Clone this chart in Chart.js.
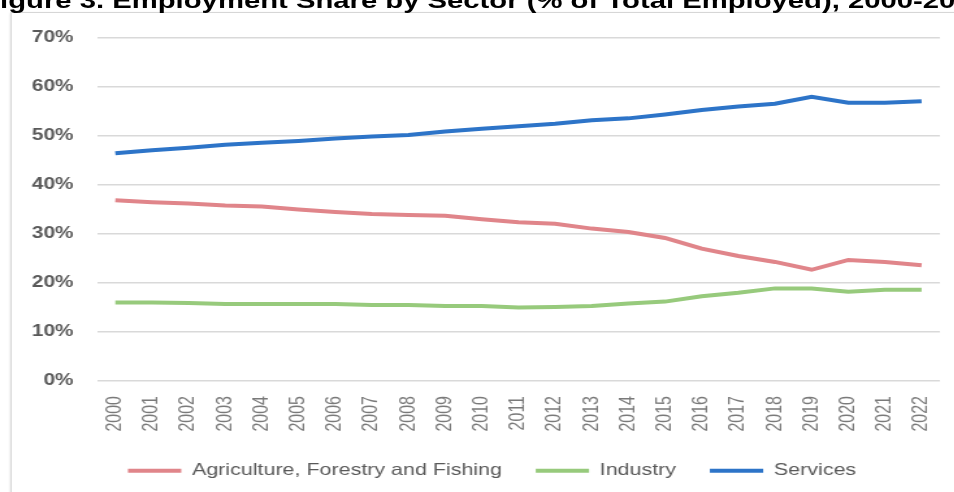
<!DOCTYPE html>
<html>
<head>
<meta charset="utf-8">
<title>Employment Share by Sector</title>
<script src="https://cdn.jsdelivr.net/npm/chart.js@4.4.1/dist/chart.umd.min.js"></script>
<style>
  html, body {
    margin: 0;
    width: 954px;
    height: 492px;
    overflow: hidden;
    background: #fff;
  }
  /* the whole figure is laid out narrow and widened sideways */
  #stage {
    position: absolute;
    left: 0;
    top: 0;
    width: 734px;
    height: 492px;
    transform: scaleX(1.3);
    transform-origin: 0 0;
  }
  #frame {
    position: absolute;
    left: 8px;
    top: 12px;
    width: 800px;
    height: 600px;
    border: 1px solid #d6d6d6;
    box-shadow: 0 1px 2px rgba(0, 0, 0, 0.12);
  }
  #title {
    position: absolute;
    left: -13.7px;
    top: -10px;
    white-space: nowrap;
    font-family: "Liberation Sans", Arial, sans-serif;
    font-weight: bold;
    font-size: 22.5px;
    line-height: 1;
    color: #000;
  }
  #chart {
    position: absolute;
    left: 0;
    top: 0;
  }
</style>
</head>
<body>
<div id="stage">
  <div id="frame"></div>
  <div id="title">Figure 3. Employment Share by Sector (% of Total Employed), 2000-2022</div>
  <canvas id="chart" width="734" height="492"></canvas>
</div>

<script>
// years on the x axis
const years = ['2000', '2001', '2002', '2003', '2004', '2005', '2006', '2007', '2008', '2009', '2010',
  '2011', '2012', '2013', '2014', '2015', '2016', '2017', '2018', '2019', '2020', '2021', '2022'];

// share of total employed, in percent
const agriculture = [36.9, 36.5, 36.2, 35.8, 35.6, 35.0, 34.5, 34.1, 33.9, 33.7, 33.0, 32.4,
  32.1, 31.1, 30.4, 29.2, 27.0, 25.5, 24.3, 22.7, 24.7, 24.3, 23.6];
const industry = [16.0, 16.0, 15.9, 15.7, 15.7, 15.7, 15.7, 15.5, 15.5, 15.3, 15.3, 15.0,
  15.1, 15.3, 15.8, 16.2, 17.3, 18.0, 18.9, 18.9, 18.2, 18.6, 18.6];
const services = [46.5, 47.1, 47.6, 48.2, 48.6, 49.0, 49.5, 49.9, 50.2, 50.9, 51.5, 52.0,
  52.5, 53.2, 53.6, 54.4, 55.3, 56.0, 56.6, 58.0, 56.8, 56.8, 57.1];

// labels for the y axis, one per 10%
const yTickLabels = ['0%', '10%', '20%', '30%', '40%', '50%', '60%', '70%'];

const fontFamily = '"Liberation Sans", Arial, sans-serif';

function makeLine(label, values, color) {
  return {
    label: label,
    data: values,
    borderColor: color,
    backgroundColor: color,
    borderWidth: 4,
    pointRadius: 0,
    tension: 0,
    fill: false
  };
}

// nudge the legend a bit to the right of the canvas centre
const legendShift = {
  id: 'legendShift',
  afterLayout: function (chart) {
    chart.legend.left += 17;
    chart.legend.right += 17;
  }
};

const ctx = document.getElementById('chart').getContext('2d');

new Chart(ctx, {
  type: 'line',
  data: {
    labels: years,
    datasets: [
      makeLine('Agriculture, Forestry and Fishing', agriculture, '#e0858a'),
      makeLine('Industry', industry, '#97ca7c'),
      makeLine('Services', services, '#2d74c8')
    ]
  },
  plugins: [legendShift],
  options: {
    responsive: false,
    animation: false,
    devicePixelRatio: 1,
    layout: {
      padding: { top: 38, right: 11, bottom: 3, left: 0 }
    },
    plugins: {
      title: { display: false },
      tooltip: { enabled: false },
      legend: {
        position: 'bottom',
        labels: {
          usePointStyle: true,
          pointStyle: 'line',
          pointStyleWidth: 41,
          padding: 26,
          color: '#595959',
          font: { family: fontFamily, size: 16.5 }
        }
      }
    },
    scales: {
      x: {
        offset: true,
        grid: { display: false, drawTicks: false },
        border: { display: false },
        ticks: {
          minRotation: 90,
          maxRotation: 90,
          autoSkip: false,
          padding: 15,
          color: '#7a7a7a',
          font: { family: fontFamily, size: 16 }
        },
        // fixed height so the plot ends where the axis labels start
        afterFit: function (scale) {
          scale.height = 55.5;
          scale.paddingLeft = 0;
          scale.paddingRight = 0;
        }
      },
      y: {
        min: 0,
        max: 70,
        grid: { color: '#d9d9d9', lineWidth: 1.5, drawTicks: false },
        border: { display: false },
        ticks: {
          stepSize: 10,
          padding: 18,
          color: '#595959',
          font: { family: fontFamily, size: 16, weight: 'bold' },
          callback: function (value) {
            return yTickLabels[Math.round(value / 10)];
          }
        },
        afterFit: function (scale) {
          scale.width = 74.6;
        }
      }
    }
  }
});
</script>
</body>
</html>
